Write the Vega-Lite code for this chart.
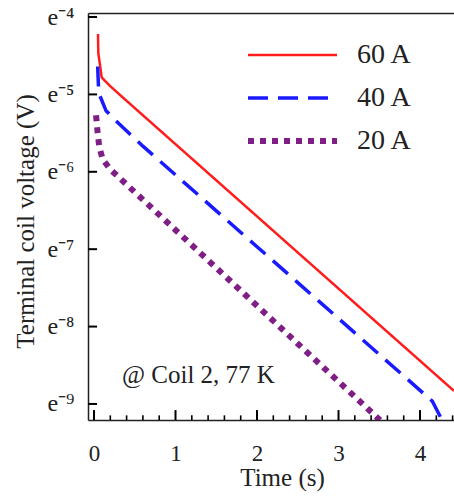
{
  "$schema": "https://vega.github.io/schema/vega-lite/v6.json",
  "width": 366,
  "height": 407,
  "autosize": {"type": "none"},
  "padding": {"left": 88, "top": 13, "right": 0, "bottom": 83},
  "background": "white",
  "config": {
    "view": {"stroke": null},
    "font": "Liberation Serif",
    "axis": {
      "grid": false,
      "domainColor": "#222",
      "labelColor": "#222",
      "titleColor": "#222",
      "labelFont": "Liberation Serif",
      "titleFont": "Liberation Serif",
      "titleFontWeight": "normal",
      "domainWidth": 1.5
    }
  },
  "datasets": {
    "curves": [
      {"series": "60 A", "t": 0.049, "v": 0.01470},
      {"series": "60 A", "t": 0.053, "v": 0.01145},
      {"series": "60 A", "t": 0.074, "v": 0.009847},
      {"series": "60 A", "t": 0.094, "v": 0.008396},
      {"series": "60 A", "t": 0.196, "v": 0.007521},
      {"series": "60 A", "t": 0.34, "v": 0.006559},
      {"series": "60 A", "t": 0.6, "v": 0.005144},
      {"series": "60 A", "t": 1.0, "v": 0.003542},
      {"series": "60 A", "t": 1.5, "v": 0.002221},
      {"series": "60 A", "t": 2.0, "v": 0.001393},
      {"series": "60 A", "t": 2.5, "v": 0.0008735},
      {"series": "60 A", "t": 3.0, "v": 0.0005481},
      {"series": "60 A", "t": 3.5, "v": 0.0003436},
      {"series": "60 A", "t": 4.0, "v": 0.0002156},
      {"series": "60 A", "t": 4.417, "v": 0.0001461},
      {"series": "40 A", "t": 0.045, "v": 0.009658},
      {"series": "40 A", "t": 0.058, "v": 0.006874},
      {"series": "40 A", "t": 0.147, "v": 0.005462},
      {"series": "40 A", "t": 0.307, "v": 0.004608},
      {"series": "40 A", "t": 0.6, "v": 0.003451},
      {"series": "40 A", "t": 1.0, "v": 0.002382},
      {"series": "40 A", "t": 1.5, "v": 0.001497},
      {"series": "40 A", "t": 2.0, "v": 0.0009415},
      {"series": "40 A", "t": 2.5, "v": 0.0005920},
      {"series": "40 A", "t": 3.0, "v": 0.0003722},
      {"series": "40 A", "t": 3.5, "v": 0.0002340},
      {"series": "40 A", "t": 4.0, "v": 0.0001472},
      {"series": "40 A", "t": 4.15, "v": 0.0001281},
      {"series": "40 A", "t": 4.27, "v": 0.0001003},
      {"series": "20 A", "t": 0.025, "v": 0.005144},
      {"series": "20 A", "t": 0.045, "v": 0.004087},
      {"series": "20 A", "t": 0.065, "v": 0.003414},
      {"series": "20 A", "t": 0.107, "v": 0.002909},
      {"series": "20 A", "t": 0.2, "v": 0.002557},
      {"series": "20 A", "t": 0.5, "v": 0.001906},
      {"series": "20 A", "t": 1.0, "v": 0.001169},
      {"series": "20 A", "t": 1.5, "v": 0.0007159},
      {"series": "20 A", "t": 2.0, "v": 0.0004390},
      {"series": "20 A", "t": 2.5, "v": 0.0002689},
      {"series": "20 A", "t": 3.0, "v": 0.0001649},
      {"series": "20 A", "t": 3.51, "v": 0.0001000}
    ],
    "note": [
      {"t": 0.344, "v": 0.0001618, "label": "@ Coil 2, 77 K"}
    ],
    "xmajor": [
      {"t": 0}, {"t": 1}, {"t": 2}, {"t": 3}, {"t": 4}
    ],
    "xminor": [
      {"t": 0.2}, {"t": 0.4}, {"t": 0.6}, {"t": 0.8},
      {"t": 1.2}, {"t": 1.4}, {"t": 1.6}, {"t": 1.8},
      {"t": 2.2}, {"t": 2.4}, {"t": 2.6}, {"t": 2.8},
      {"t": 3.2}, {"t": 3.4}, {"t": 3.6}, {"t": 3.8},
      {"t": 4.2}, {"t": 4.4}
    ],
    "yticks": [
      {"v": 0.01831564}, {"v": 0.006737947}, {"v": 0.002478752}, {"v": 0.000911882}, {"v": 0.000335463}, {"v": 0.0001234098}
    ]
  },
  "layer": [
    {
      "data": {"name": "xmajor"},
      "mark": {"type": "rule", "color": "black", "strokeWidth": 2, "opacity": 1},
      "encoding": {
        "x": {
          "field": "t",
          "type": "quantitative",
          "scale": {"domain": [-0.0736, 4.417], "nice": false, "zero": false},
          "axis": {"orient": "top", "ticks": false, "labels": false, "domain": true, "title": null}
        },
        "y": {
          "datum": 0.0001003,
          "type": "quantitative",
          "scale": {"type": "log", "base": 2.718281828459045, "domain": [0.0001003, 0.01929], "nice": false},
          "axis": null
        },
        "y2": {"datum": 0.0001140}
      }
    },
    {
      "data": {"name": "xminor"},
      "mark": {"type": "rule", "color": "black", "strokeWidth": 1.6, "opacity": 1},
      "encoding": {
        "x": {"field": "t", "type": "quantitative", "axis": null},
        "y": {"datum": 0.0001003, "type": "quantitative", "axis": null},
        "y2": {"datum": 0.0001065}
      }
    },
    {
      "data": {"name": "yticks"},
      "mark": {"type": "rule", "color": "black", "strokeWidth": 2, "opacity": 1},
      "encoding": {
        "y": {"field": "v", "type": "quantitative", "axis": null},
        "x": {"datum": -0.0736, "type": "quantitative", "axis": null},
        "x2": {"datum": 0.0375}
      }
    },
    {
      "data": {"name": "curves"},
      "mark": {"type": "line", "clip": true, "strokeCap": "butt", "strokeJoin": "round"},
      "encoding": {
        "x": {
          "field": "t",
          "type": "quantitative",
          "axis": {
            "orient": "bottom",
            "values": [0, 1, 2, 3, 4],
            "format": "d",
            "ticks": false,
            "labelPadding": 40,
            "labelBaseline": "alphabetic",
            "labelFontSize": 23,
            "labelFlush": false,
            "title": "Time (s)",
            "titleFontSize": 25,
            "titleX": 194,
            "titleY": 65,
            "titleAlign": "center",
            "titleBaseline": "alphabetic"
          }
        },
        "y": {
          "field": "v",
          "type": "quantitative",
          "axis": {
            "orient": "left",
            "values": [0.01831564, 0.006737947, 0.002478752, 0.000911882, 0.000335463, 0.0001234098],
            "ticks": false,
            "labelPadding": 14,
            "labelFontSize": 24,
            "labelFlush": false,
            "labelExpr": "'e⁻' + ['⁰','¹','²','³','⁴','⁵','⁶','⁷','⁸','⁹'][-round(log(datum.value))]",
            "title": "Terminal coil voltage (V)",
            "titleFontSize": 25,
            "titleAngle": 270,
            "titleX": -55,
            "titleY": 208,
            "titleAlign": "center",
            "titleBaseline": "alphabetic"
          }
        },
        "stroke": {
          "field": "series",
          "type": "nominal",
          "scale": {"domain": ["60 A", "40 A", "20 A"], "range": ["#ff1c1c", "#1a1aff", "#7f1f86"]},
          "legend": {
            "orient": "none",
            "legendX": 157,
            "legendY": 29,
            "title": null,
            "padding": 0,
            "symbolType": "stroke",
            "symbolSize": 7921,
            "clipHeight": 26,
            "rowPadding": 15,
            "labelOffset": 17,
            "labelFont": "Liberation Serif",
            "labelFontSize": 28,
            "labelColor": "#222"
          }
        },
        "strokeDash": {
          "field": "series",
          "type": "nominal",
          "scale": {"domain": ["60 A", "40 A", "20 A"], "range": [[1, 0], [20, 10], [6, 6]]}
        },
        "strokeWidth": {
          "field": "series",
          "type": "nominal",
          "scale": {"type": "ordinal", "domain": ["60 A", "40 A", "20 A"], "range": [2.5, 3.5, 6]}
        }
      }
    },
    {
      "data": {"name": "note"},
      "mark": {"type": "text", "align": "left", "baseline": "alphabetic", "fontSize": 25, "font": "Liberation Serif", "color": "#222"},
      "encoding": {
        "x": {"field": "t", "type": "quantitative", "axis": null},
        "y": {"field": "v", "type": "quantitative", "axis": null},
        "text": {"field": "label"}
      }
    }
  ],
  "resolve": {"axis": {"x": "independent", "y": "independent"}}
}
